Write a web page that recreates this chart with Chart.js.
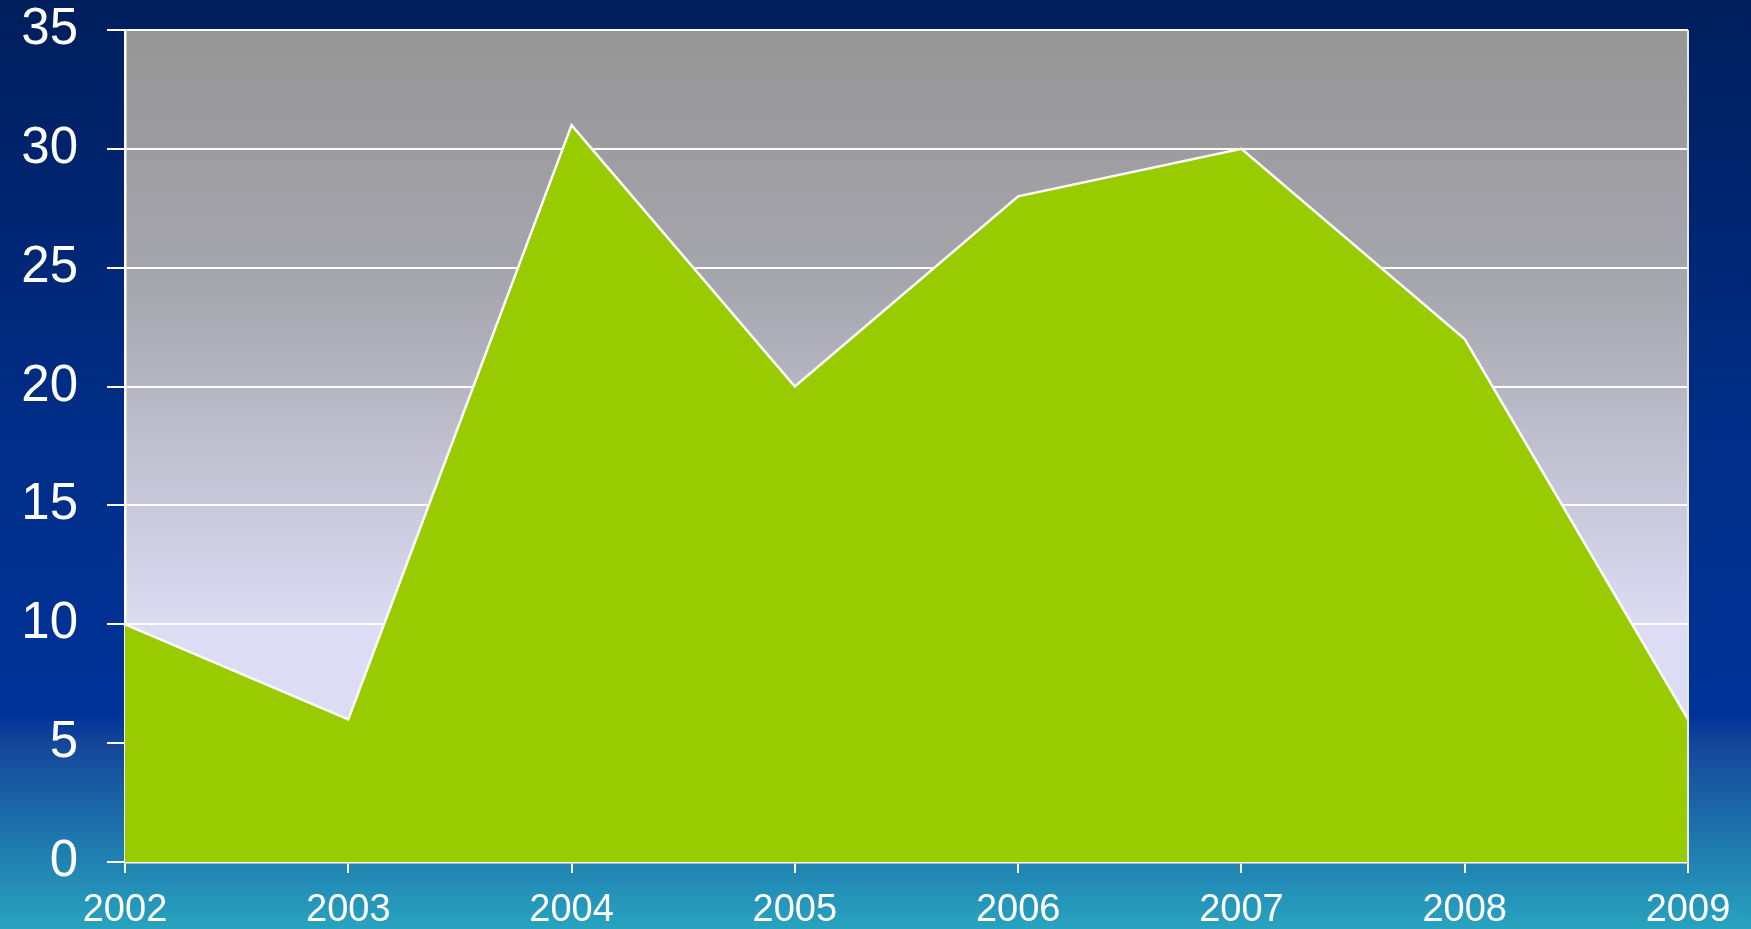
<!DOCTYPE html>
<html>
<head>
<meta charset="utf-8">
<script src="https://cdn.jsdelivr.net/npm/chart.js@4/dist/chart.umd.min.js"></script>
<style>
  html, body { margin: 0; padding: 0; background: #002a7a; }
  #box { width: 1751px; height: 929px; position: relative; }
</style>
</head>
<body>
<div id="box"><canvas id="myAreaChart"></canvas></div>
<script>
// chart values
var years = ["2002", "2003", "2004", "2005", "2006", "2007", "2008", "2009"];
var values = [10, 6, 31, 20, 28, 30, 22, 6];
var yMin = 0, yMax = 35, yStep = 5;

// paints page + plot backgrounds, and the right border of the plot
var backdrop = {
    id: 'backdrop',
    beforeDraw: function(chart){
        var ctx = chart.ctx, w = chart.width, h = chart.height, a = chart.chartArea;
        ctx.save();
        var g = ctx.createLinearGradient(0, 0, 0, h);
        g.addColorStop(0, '#001e5c');
        g.addColorStop(0.45, '#002d86');
        g.addColorStop(0.77, '#003399');
        g.addColorStop(0.80, '#14469a');
        g.addColorStop(1, '#28a4bf');
        ctx.fillStyle = g;
        ctx.fillRect(0, 0, w, h);

        var p = ctx.createLinearGradient(0, a.top, 0, a.bottom);
        p.addColorStop(0, '#969696');
        p.addColorStop(0.3, '#a5a5ad');
        p.addColorStop(0.72, '#dcdcf4');
        p.addColorStop(1, '#dcdcf4');
        ctx.fillStyle = p;
        ctx.fillRect(a.left, a.top, a.right - a.left, a.bottom - a.top);
        ctx.restore();
    },
    afterDraw: function(chart){
        var ctx = chart.ctx, a = chart.chartArea;
        ctx.save();
        ctx.strokeStyle = '#e8e8f0';
        ctx.lineWidth = 2;
        ctx.beginPath();
        ctx.moveTo(a.right, a.top);
        ctx.lineTo(a.right, a.bottom);
        ctx.stroke();
        ctx.restore();
    }
};

var ctx = document.getElementById("myAreaChart");
var myAreaChart = new Chart(ctx, {
    type: 'line',
    data: {
        labels: years,
        datasets: [{
            data: values,
            fill: 'origin',
            backgroundColor: '#99cc00',
            borderColor: '#ffffff',
            borderWidth: 2.5,
            pointRadius: 0,
            tension: 0
        }]
    },
    options: {
        responsive: true,
        maintainAspectRatio: false,
        animation: false,
        layout: { padding: { top: 0, right: 63, left: 0, bottom: 0 } },
        plugins: {
            legend: { display: false },
            tooltip: { enabled: false }
        },
        scales: {
            x: {
                offset: false,
                grid: {
                    drawOnChartArea: false,
                    drawTicks: true,
                    tickLength: 11,
                    color: '#ffffff',
                    lineWidth: 2
                },
                border: { display: true, color: '#ffffff', width: 2.5 },
                ticks: {
                    color: '#ffffff',
                    font: { family: 'Liberation Sans', size: 38 },
                    padding: 15,
                    maxRotation: 0,
                    autoSkip: false
                },
                afterFit: function(scale){ scale.height = 67; }
            },
            y: {
                min: yMin,
                max: yMax,
                grid: {
                    color: '#ffffff',
                    lineWidth: 2,
                    tickLength: 18
                },
                border: { display: true, color: '#ffffff', width: 2.5 },
                ticks: {
                    stepSize: yStep,
                    color: '#ffffff',
                    font: { family: 'Liberation Sans', size: 51 },
                    padding: 29,
                    callback: function(value, index, values){
                        return value
                    }
                },
                afterFit: function(scale){
                    scale.width = 125;
                    scale.paddingTop = 30;
                    scale.paddingBottom = 0;
                }
            }
        }
    },
    plugins: [backdrop]
});
</script>
</body>
</html>
